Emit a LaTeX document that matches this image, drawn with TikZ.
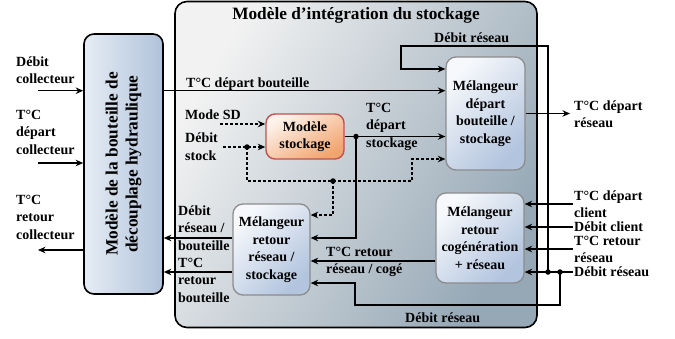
\documentclass[tikz,border=0pt]{standalone}
\usepackage{fontspec}
\setmainfont{Liberation Serif}
\usetikzlibrary{arrows.meta}
\definecolor{contL}{HTML}{F2F2F2}
\definecolor{contR}{HTML}{96A8B6}
\definecolor{mixL}{HTML}{F6F8FB}
\definecolor{mixR}{HTML}{B2C4DE}
\definecolor{mixB}{HTML}{8C8C8C}
\definecolor{stkL}{HTML}{FDF3EC}
\definecolor{stkR}{HTML}{F2A46E}
\definecolor{stkB}{HTML}{C0504D}
\definecolor{botL}{HTML}{E6EDF5}
\definecolor{botR}{HTML}{B0C2DA}
\begin{document}
\begin{tikzpicture}[x=1pt,y=-1pt,
  txt/.style={font=\bfseries\fontsize{14}{17.5}\selectfont, inner sep=0pt},
  lab/.style={txt, align=left, anchor=north west},
  big/.style={font=\bfseries\fontsize{17.3}{20}\selectfont, inner sep=0pt},
  ln/.style={line width=1.5pt},
  arr/.style={ln, -{Stealth[length=7.5pt,width=6.5pt]}},
  darr/.style={arr, dash pattern=on 3pt off 2pt},
  jdot/.style={circle, fill=black, inner sep=0pt, minimum size=5.5pt},
  mix/.style={txt, align=center, draw=mixB, line width=1.3pt, rounded corners=10pt,
    left color=mixL, right color=mixR, shading angle=45}]
\useasboundingbox (0,0) rectangle (675,338);

% container
\node[draw, line width=1.6pt, rounded corners=12pt, minimum width=362pt, minimum height=326pt,
  left color=contL, right color=contR, shading angle=60] (cont) at (356,164.5) {};
\node[big] (title) at (356,15) {Modèle d’intégration du stockage};

% bouteille
\node[draw, line width=1.6pt, rounded corners=10pt, minimum width=79pt, minimum height=260pt,
  left color=botL, right color=botR] (bout) at (123.5,164) {};
\node[big, rotate=90, align=center] (boutt) at (bout.center) {Modèle de la bouteille de\\découplage hydraulique};

% boxes
\node[mix, minimum width=79pt, minimum height=113pt] (mdep) at (485.5,113.5) {Mélangeur\\départ\\bouteille /\\stockage};
\node[mix, minimum width=77pt, minimum height=91pt] (mret) at (271.5,249.5) {Mélangeur\\retour\\réseau /\\stockage};
\node[mix, minimum width=88pt, minimum height=90pt] (mcog) at (480,238) {Mélangeur\\retour\\cogénération\\+ réseau};
\node[txt, align=center, draw=stkB, line width=1.4pt, rounded corners=9pt, minimum width=78pt, minimum height=45pt,
  left color=stkL, right color=stkR, shading angle=30] (stock) at (305,136.5) {Modèle\\stockage};

% coordinates
\coordinate (inDC) at (38,90.7);
\coordinate (inTC) at (38,163);
\coordinate (outTC) at (38,250);
\coordinate (outTR) at (570,113.5);
\coordinate (inSD) at (220,124);
\coordinate (inDS) at (223,147);
\coordinate (dDS) at (247,147);
\coordinate (dMid) at (333,181);
\coordinate (dTS) at (356,136.5);
\coordinate (j1) at (548,272);
\coordinate (j2) at (560,272);
\coordinate (in1) at (573,204);
\coordinate (in2) at (573,227);
\coordinate (in3) at (573,249);
\coordinate (in4) at (573,272);

% left side
\draw[arr] (inDC) -- (inDC -| bout.west);
\draw[arr] (inTC) -- (inTC -| bout.west);
\draw[arr] (outTC -| bout.west) -- (outTC);
\node[lab] (lDC) at (16,56.5) {Débit\\collecteur};
\node[lab] (lTC) at (16,109.5) {T°C\\départ\\collecteur};
\node[lab] (lRC) at (16,194.5) {T°C\\retour\\collecteur};

% top connectors
\draw[arr] (bout.east |- 0,90.7) -- (mdep.west |- 0,90.7);
\node[lab] (lTB) at (186,77.5) {T°C départ bouteille};
\draw[arr] (j1) |- (401,46) |- (mdep.west |- 0,69);
\node[lab] (lDR1) at (434,32.5) {Débit réseau};
\draw[arr] (mdep.east |- outTR) -- (outTR);
\node[lab] (lTR) at (574,100.5) {T°C départ\\réseau};

% stockage
\draw[darr] (inSD) -- (inSD -| stock.west);
\node[lab] (lSD) at (185,109.5) {Mode SD};
\draw[darr] (inDS) -- (inDS -| stock.west);
\node[lab] (lDS) at (185,133) {Débit\\stock};
\draw[darr] (dDS) |- (412,181) |- (mdep.west |- 0,159);
\draw[darr] (dMid) |- (mret.east |- 0,215);
\draw[arr] (stock.east) -- (stock.east -| mdep.west);
\draw[arr] (dTS) |- (mret.east |- 0,238);
\node[lab] (lTS) at (366,102.5) {T°C\\départ\\stockage};

% retour
\draw[arr] (mcog.west |- 0,261) -- (mret.east |- 0,261);
\node[lab] (lRC2) at (326,246.5) {T°C retour\\réseau / cogé};
\draw[arr] (j2) |- (355,305) |- (mret.east |- 0,283);
\node[lab] (lDR2) at (405,312.5) {Débit réseau};
\draw[arr] (mret.west |- 0,238) -- (bout.east |- 0,238);
\draw[arr] (mret.west |- 0,272) -- (bout.east |- 0,272);
\node[lab] (lDB) at (178,205.5) {Débit\\réseau /\\bouteille};
\node[lab] (lTRB) at (178,257.5) {T°C\\retour\\bouteille};

% right inputs
\draw[arr] (in1) -- (in1 -| mcog.east);
\draw[arr] (in2) -- (in2 -| mcog.east);
\draw[arr] (in3) -- (in3 -| mcog.east);
\draw[arr] (in4) -- (in4 -| mcog.east);
\node[lab] (lI1) at (574,190.5) {T°C départ\\client};
\node[lab] (lI2) at (574,221.5) {Débit client};
\node[lab] (lI3) at (574,235.5) {T°C retour\\réseau};
\node[lab] (lI4) at (574,266.5) {Débit réseau};

% junction dots
\node[jdot] at (dDS) {};
\node[jdot] at (dMid) {};
\node[jdot] at (dTS) {};
\node[jdot] at (j1) {};
\node[jdot] at (j2) {};
\end{tikzpicture}
\end{document}
